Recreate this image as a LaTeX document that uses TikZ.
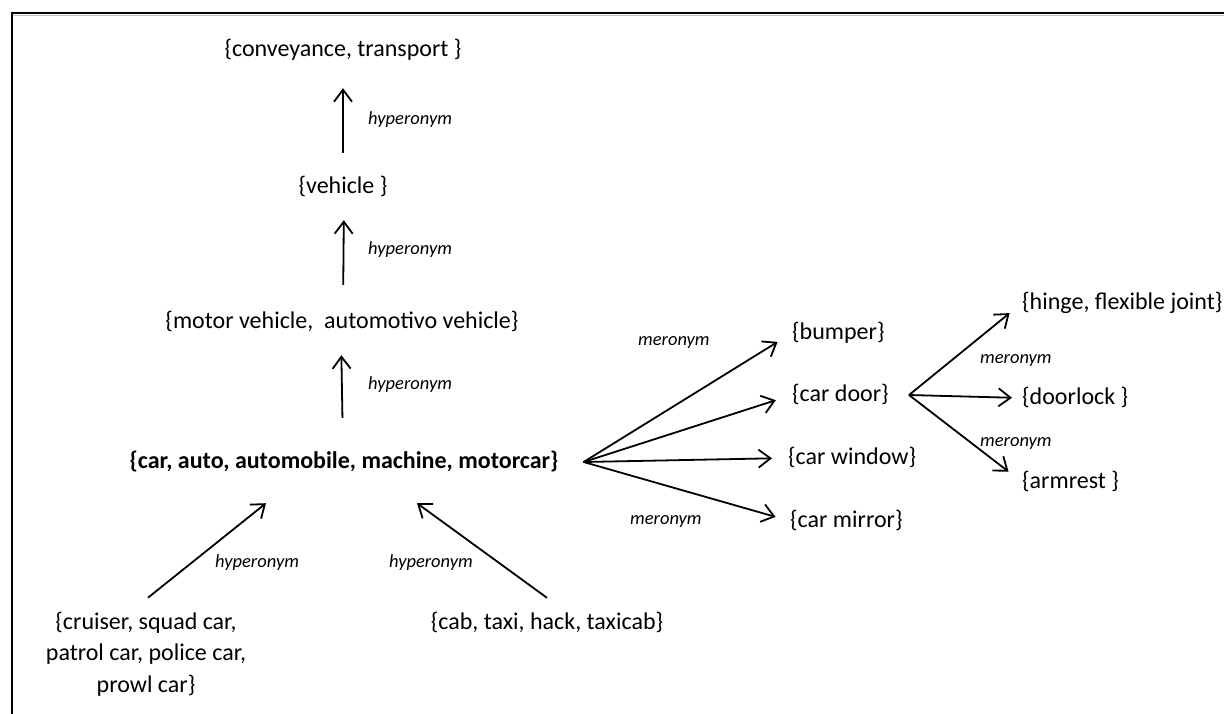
\documentclass[tikz,border=0pt]{standalone}
\usepackage{fontspec}
\setmainfont{Carlito}
\usetikzlibrary{arrows.meta}
\begin{document}
\begin{tikzpicture}[x=1pt,y=-1pt,
  synset/.style={inner sep=0pt,text height=17pt,text depth=5pt,
    font=\fontsize{24}{31.5}\selectfont},
  rel/.style={inner sep=0pt,font=\fontsize{18.5}{22}\selectfont\itshape},
  link/.style={line width=1.8pt,-{Straight Barb[length=12pt,width=18pt]}}
]
\useasboundingbox (0,0) rectangle (1224,713);
% frame
\draw[black!25,line width=1pt] (12.5,715) -- (12.5,15) -- (1226,15);
\draw[line width=2pt] (11.5,715) -- (11.5,13) -- (1226,13);

% hypernym chain
\node[synset] (conv)  at (343,50)  {\{conveyance, transport \}};
\node[synset] (veh)   at (343,187) {\{vehicle \}};
\node[synset] (motor) at (342,322) {\{motor vehicle,\ \ automotivo vehicle\}};
\node[synset,font=\fontsize{24}{31.5}\selectfont\bfseries] (car) at (344,462)
  {\{car, auto, automobile, machine, motorcar\}};
\node[synset,align=center,text height=,text depth=] (cruiser) at (146,654)
  {\{cruiser, squad car,\\patrol car, police car,\\prowl car\}};
\node[synset] (cab) at (547,623) {\{cab, taxi, hack, taxicab\}};

% parts of the car
\node[synset,anchor=west] (bumper) at (792,333) {\{bumper\}};
\node[synset,anchor=west] (door)   at (792,395) {\{car door\}};
\node[synset,anchor=west] (window) at (788,458) {\{car window\}};
\node[synset,anchor=west] (mirror) at (790,521) {\{car mirror\}};

% parts of the car door
\node[synset,anchor=west] (hinge)    at (1022,303) {\{hinge, flexible joint\}};
\node[synset,anchor=west] (doorlock) at (1022,398) {\{doorlock \}};
\node[synset,anchor=west] (armrest)  at (1022,482) {\{armrest \}};

% vertical hypernym links
\draw[link,shorten <=23pt,shorten >=27pt] (veh.north) -- (conv.south);
\draw[link,shorten <=26pt,shorten >=22pt] ([xshift=1pt]motor.north) -- ([xshift=1pt]veh.south);
\draw[link,shorten <=33pt,shorten >=22pt] ([xshift=-1pt]car.north) -- ([xshift=-1pt]motor.south);

% hyponyms pointing up to the car synset
\draw[link] ([xshift=2pt,yshift=14pt]cruiser.north) -- ([xshift=-78pt,yshift=-30pt]car.south);
\draw[link] ([yshift=14pt]cab.north) -- ([xshift=73pt,yshift=-30pt]car.south);

% meronym fans
\coordinate (fanA) at ([xshift=25pt]car.east);
\draw[link,shorten >=17pt] (fanA) -- (bumper.west);
\draw[link,shorten >=17pt] (fanA) -- (door.west);
\draw[link,shorten >=16pt] (fanA) -- (window.west);
\draw[link,shorten >=15pt] (fanA) -- (mirror.west);

\coordinate (fanB) at ([xshift=20pt]door.east);
\draw[link,shorten >=16pt] (fanB) -- (hinge.west);
\draw[link,shorten >=10pt] (fanB) -- (doorlock.west);
\draw[link,shorten >=17pt] (fanB) -- (armrest.west);

% relation labels
\node[rel,anchor=west] (h1) at (368,120) {hyperonym};
\node[rel,anchor=west] (h2) at (368,250) {hyperonym};
\node[rel,anchor=west] (h3) at (368,385) {hyperonym};
\node[rel,anchor=west] (h4) at (215,563) {hyperonym};
\node[rel,anchor=east] (h5) at (473,563) {hyperonym};
\node[rel,anchor=west] (m1) at (638,342) {meronym};
\node[rel,anchor=west] (m2) at (630,521) {meronym};
\node[rel,anchor=west] (m3) at (980,360) {meronym};
\node[rel,anchor=west] (m4) at (980,443) {meronym};
\end{tikzpicture}
\end{document}
